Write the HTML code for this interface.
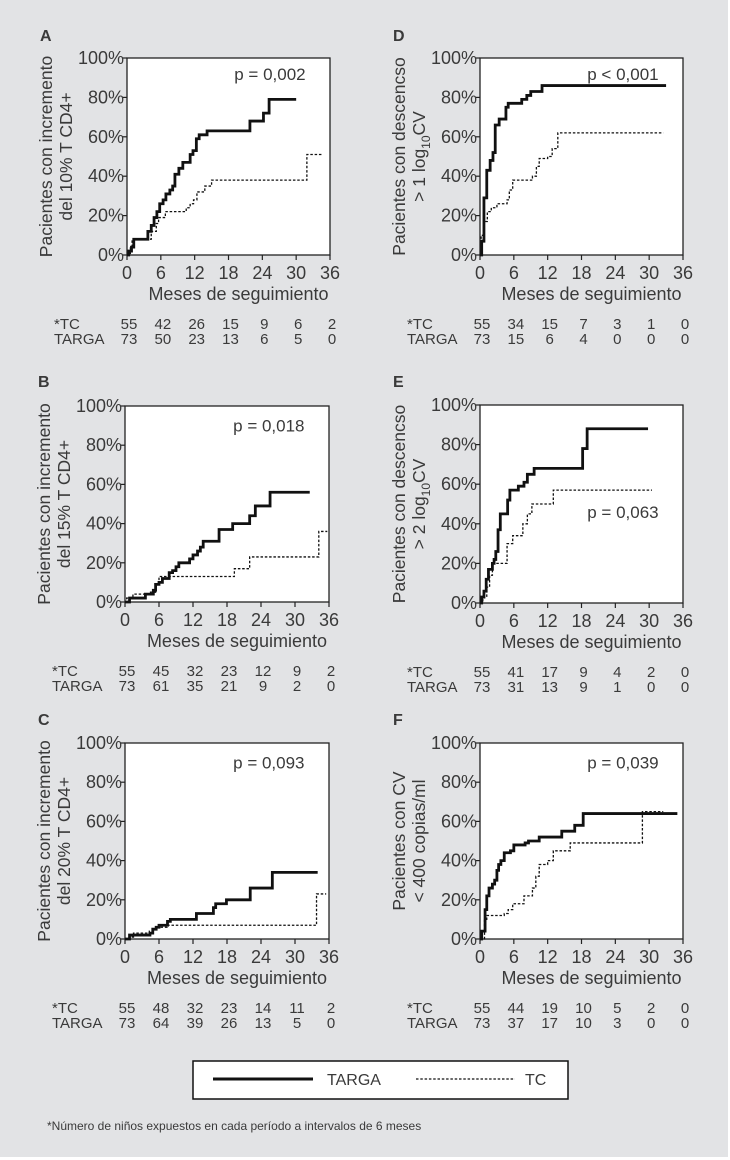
<!DOCTYPE html>
<html><head><meta charset="utf-8">
<style>
html,body{margin:0;padding:0;background:#fff;}
svg{display:block;}
text{font-family:"Liberation Sans",sans-serif;fill:#3a3a3a;}
</style></head>
<body>
<svg id="fig" width="730" height="1160" viewBox="0 0 730 1160" xmlns="http://www.w3.org/2000/svg">
<rect x="0" y="0" width="728" height="1157" fill="#e2e3e5"/>
<g id="panels"></g>
<g>
<rect x="193" y="1061" width="375" height="38" fill="#fff" stroke="#111" stroke-width="1.5"/>
<line x1="213" y1="1079" x2="313" y2="1079" stroke="#111" stroke-width="3"/>
<text x="327" y="1085" font-size="16">TARGA</text>
<line x1="416" y1="1079" x2="515" y2="1079" stroke="#111" stroke-width="1.2" stroke-dasharray="2.5,1.8"/>
<text x="525" y="1085" font-size="16">TC</text>
</g>
<text x="47" y="1130" font-size="12">*Número de niños expuestos en cada período a intervalos de 6 meses</text>
</svg>
<script>
// ---- data ----
const panelLetters = ["A","B","C","D","E","F"];
const pValues = ["p = 0,002","p = 0,018","p = 0,093","p < 0,001","p = 0,063","p = 0,039"];
const yTitles = [
 ["Pacientes con incremento","del 10% T CD4+"],
 ["Pacientes con incremento","del 15% T CD4+"],
 ["Pacientes con incremento","del 20% T CD4+"],
 ["Pacientes con descencso","> 1 log|10|CV"],
 ["Pacientes con descencso","> 2 log|10|CV"],
 ["Pacientes con CV","< 400 copias/ml"]
];
const xTicks = [0,6,12,18,24,30,36];
const yTicks = [0,20,40,60,80,100];
const riskTC = [
 [55,42,26,15,9,6,2],[55,45,32,23,12,9,2],[55,48,32,23,14,11,2],
 [55,34,15,7,3,1,0],[55,41,17,9,4,2,0],[55,44,19,10,5,2,0]];
const riskTARGA = [
 [73,50,23,13,6,5,0],[73,61,35,21,9,2,0],[73,64,39,26,13,5,0],
 [73,15,6,4,0,0,0],[73,31,13,9,1,0,0],[73,37,17,10,3,0,0]];
const targaA = [[0,0],[0.3,2],[0.8,4],[1.2,8],[3.7,12],[4.3,15],[4.8,19],[5.3,22],[5.8,26],[6.4,28],[6.9,31],[7.6,33],[8.1,35],[8.5,41],[9.2,44],[9.9,47],[11.2,51],[11.7,53],[12.3,59],[12.8,61],[14.2,63],[21.8,68],[24.2,72],[25.2,79],[30,79]];
const tcA = [[0,0],[0.6,4],[0.9,8],[3.7,8],[4.3,12],[5.2,16],[5.6,19],[6.8,22],[9.8,22],[10.5,24],[11.2,26],[11.8,28],[12.4,32],[13.8,35],[15,38],[31.9,38],[31.9,51],[34.7,51]];
const targaB = [[0,0],[0.8,2],[3.6,4],[5,6],[5.4,9],[6,10],[6.6,12],[7.8,15],[8.4,16],[9,18],[9.5,20],[11.4,22],[12,24],[12.8,26],[13.3,28],[13.8,31],[16.6,37],[19,40],[22,44],[23,49],[25.6,56],[32.6,56]];
const tcB = [[0,0],[0.3,2],[1.4,4],[4.5,5],[5.4,9],[6,13],[19.3,17],[22,23],[34.2,36],[35.7,36]];
const targaC = [[0,0],[0.8,2],[4.4,3],[4.9,5],[5.5,6],[6,7],[7.5,9],[8,10],[12.6,13],[15.6,16],[16,18],[17.9,20],[22.1,26],[26,34],[34,34]];
const tcC = [[0,0],[0.8,1],[1.5,3],[4.3,4],[4.9,5],[5.6,6],[7.4,7],[33.8,7],[33.8,23],[35.5,23]];
const targaD = [[0,0],[0.3,7],[0.7,29],[1.2,43],[1.8,48],[2.3,52],[2.7,66],[3.4,69],[4.6,75],[5,77],[7.4,79],[8.3,81],[9,83],[11,86],[33,86]];
const tcD = [[0,0],[0.2,10],[0.7,17],[1.3,22],[2,24],[3,26],[4.8,28],[5.2,33],[5.8,38],[8.5,38],[9.3,40],[10,45],[10.5,49],[12,50],[12.8,54],[13.8,62],[32.5,62]];
const targaE = [[0,0],[0.3,3],[0.7,6],[1.1,12],[1.5,17],[2.2,20],[2.5,22],[2.8,26],[3.2,37],[3.6,45],[4.9,52],[5.3,57],[6.8,59],[7.8,61],[8.4,65],[9.6,68],[18.2,78],[19,88],[29.8,88]];
const tcE = [[0,0],[0.5,3],[1.2,8],[1.7,14],[2.2,20],[4.8,20],[4.8,30],[5.8,34],[7.6,40],[8.4,45],[9.2,50],[13,57],[30.5,57]];
const targaF = [[0,0],[0.3,4],[0.9,15],[1.2,22],[1.6,26],[2.2,28],[2.6,30],[3,35],[3.3,38],[3.7,40],[4.3,44],[5.4,45],[6,48],[8,49],[8.6,50],[10.5,52],[14.5,55],[16.8,58],[18.3,64],[35,64]];
const tcF = [[0,0],[0.8,10],[1.2,12],[4.3,13],[5,15],[5.8,18],[7.8,22],[9.3,26],[9.9,32],[10.5,38],[12,40],[13,45],[16,49],[28.8,49],[28.8,65],[32.5,65]];
const targaSeries = [targaA,targaB,targaC,targaD,targaE,targaF];
const tcSeries = [tcA,tcB,tcC,tcD,tcE,tcF];

// ---- layout ----
const boxes = [
 {x0:127,x1:330,y0:58,y1:255,lx:40,ly:41},
 {x0:125,x1:329,y0:406,y1:602,lx:38,ly:387},
 {x0:125,x1:329,y0:743,y1:939,lx:38,ly:725},
 {x0:480,x1:683,y0:58,y1:255,lx:393,ly:41},
 {x0:480,x1:683,y0:405,y1:603,lx:393,ly:387},
 {x0:480,x1:683,y0:743,y1:939,lx:393,ly:725}
];
const pPos = [[0.88,0.92],[0.88,0.9],[0.88,0.9],[0.88,0.92],[0.88,0.46],[0.88,0.9]];
const NS="http://www.w3.org/2000/svg";
const root=document.getElementById('panels');
function mk(tag,attrs,parent){const e=document.createElementNS(NS,tag);for(const k in attrs)e.setAttribute(k,attrs[k]);(parent||root).appendChild(e);return e;}
function stepPath(data,sx,sy){let d="M"+sx(data[0][0])+","+sy(data[0][1]);for(let i=1;i<data.length;i++){d+=" H"+sx(data[i][0])+" V"+sy(data[i][1]);}return d;}

boxes.forEach((b,i)=>{
 const g=mk('g',{});
 
 
 const sx=v=>b.x0+(b.x1-b.x0)*v/36;
 const sy=v=>b.y1-(b.y1-b.y0)*v/100;
 const letter=mk('text',{x:b.lx,y:b.ly,'font-size':16,'font-weight':'bold',fill:'#111'},g);
 letter.textContent=panelLetters[i];
 
 
 const rect=mk('rect',{x:b.x0,y:b.y0,width:b.x1-b.x0,height:b.y1-b.y0,fill:'#fff',stroke:'#222','stroke-width':1.3},g);
 
 
 yTicks.forEach(t=>{
  const ln=mk('line',{x1:b.x0-5,x2:b.x0,y1:sy(t),y2:sy(t),stroke:'#222','stroke-width':1.2},g);
  
  
  const tx=mk('text',{x:b.x0-3,y:sy(t)+6,'font-size':18,'text-anchor':'end'},g);
  tx.textContent=t+"%";
  
  
 });
 xTicks.forEach((t,k)=>{
  const ln=mk('line',{x1:sx(t),x2:sx(t),y1:b.y1,y2:b.y1+5,stroke:'#222','stroke-width':1.2},g);
  
  
  const tx=mk('text',{x:sx(t),y:b.y1+24,'font-size':18,'text-anchor':'middle'},g);
  tx.textContent=t;
  
  
  const r1=mk('text',{x:sx(t)+2,y:b.y1+74,'font-size':15,'text-anchor':'middle'},g);
  r1.textContent=riskTC[i][k];
  
  
  const r2=mk('text',{x:sx(t)+2,y:b.y1+89,'font-size':15,'text-anchor':'middle'},g);
  r2.textContent=riskTARGA[i][k];
  
  
 });
 const rl1=mk('text',{x:b.x0-73,y:b.y1+74,'font-size':15},g);
 rl1.textContent="*TC";
 
 
 const rl2=mk('text',{x:b.x0-73,y:b.y1+89,'font-size':15},g);
 rl2.textContent="TARGA";
 
 
 const xt=mk('text',{x:(b.x0+b.x1)/2+10,y:b.y1+45,'font-size':18,'text-anchor':'middle'},g);
 xt.textContent="Meses de seguimiento";
 
 
 const cy=(b.y0+b.y1)/2;
 const lx1=b.x0-75, lx2=b.x0-55;
 yTitles[i].forEach((line,li)=>{
  const x=li===0?lx1:lx2;
  const t=mk('text',{x:x,y:cy,'font-size':17.5,'text-anchor':'middle',transform:'rotate(-90 '+x+' '+cy+')'},g);
  
  
  const parts=line.split('|');
  if(parts.length===1){t.textContent=line;}
  else{
   const a=mk('tspan',{},t);a.textContent=parts[0];
   const s=mk('tspan',{dy:5,'font-size':12},t);s.textContent=parts[1];
   const c=mk('tspan',{dy:-5},t);c.textContent=parts[2];
  }
 });
 const pt=mk('text',{x:b.x0+(b.x1-b.x0)*pPos[i][0],y:b.y1-(b.y1-b.y0)*pPos[i][1]+6,'font-size':17,'text-anchor':'end'},g);
 pt.textContent=pValues[i];
 
 
 const tc=mk('path',{d:stepPath(tcSeries[i],sx,sy),fill:'none',stroke:'#111','stroke-width':1.3,'stroke-dasharray':'2.5,1.8'},g);
 
 
 const tg=mk('path',{d:stepPath(targaSeries[i],sx,sy),fill:'none',stroke:'#111','stroke-width':2.8},g);
 
 
});
</script>
</body></html>
